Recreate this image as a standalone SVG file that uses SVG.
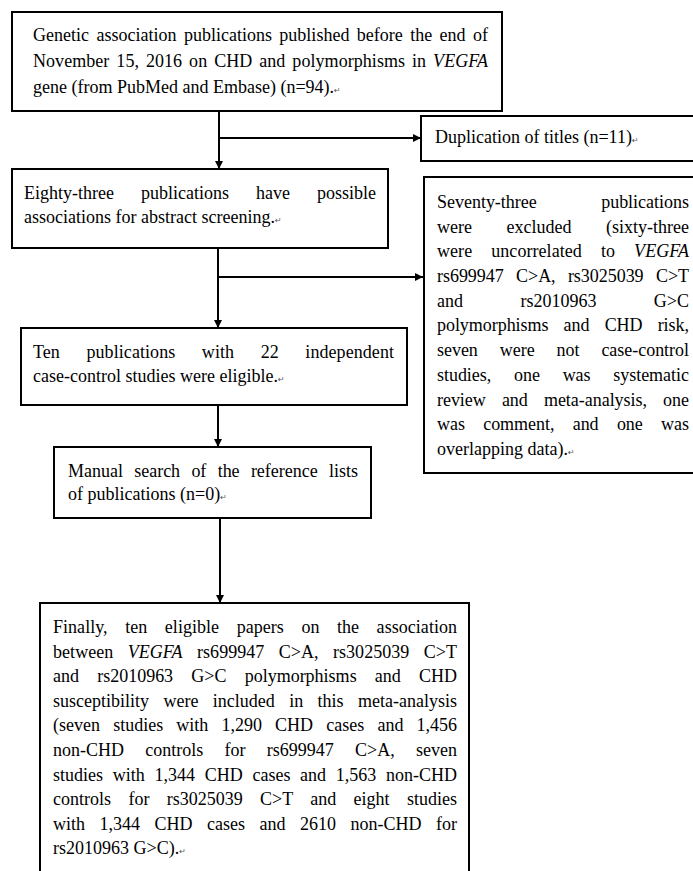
<svg xmlns="http://www.w3.org/2000/svg" width="693" height="871" viewBox="0 0 693 871">
<style>
.box{fill:#fff;stroke:#000;stroke-width:2}
.t{font-family:"Liberation Serif","Times New Roman",serif;font-size:18px;fill:#000}
.i{font-style:italic}
.pm{font-family:"DejaVu Sans",sans-serif;font-size:8px;fill:#555}
.c{fill:none;stroke:#000;stroke-width:2}
</style>
<defs>
<marker id="ah" viewBox="0 0 10 10" refX="10" refY="5" markerWidth="9" markerHeight="8" markerUnits="userSpaceOnUse" orient="auto">
<path d="M0,0 L10,5 L0,10 z" fill="#000"/>
</marker>
</defs>
<rect width="693" height="871" fill="#fff"/>
<g id="connectors">
<path class="c" d="M219,111 V169" marker-end="url(#ah)"/>
<path class="c" d="M219,138 H421" marker-end="url(#ah)"/>
<path class="c" d="M218,248 V328" marker-end="url(#ah)"/>
<path class="c" d="M218,277 H423" marker-end="url(#ah)"/>
<path class="c" d="M218,405 V447" marker-end="url(#ah)"/>
<path class="c" d="M220,518 V603" marker-end="url(#ah)"/>
</g>
<g id="n1">
<rect class="box" x="12" y="12" width="490" height="99"/>
<text class="t" x="33" y="41" textLength="455" lengthAdjust="spacing" word-spacing="2.9">Genetic association publications published before the end of</text>
<text class="t" x="33" y="67" textLength="455" lengthAdjust="spacing" word-spacing="2.4">November 15, 2016 on CHD and polymorphisms in <tspan class="i">VEGFA</tspan></text>
<text class="t" x="33" y="93">gene (from PubMed and Embase) (n=94).<tspan class="pm">↵</tspan></text>
</g>
<g id="n2">
<rect class="box" x="421" y="116" width="290" height="45"/>
<text class="t" x="435" y="143">Duplication of titles (n=11)<tspan class="pm">↵</tspan></text>
</g>
<g id="n3">
<rect class="box" x="12" y="169" width="376" height="79"/>
<text class="t" x="24" y="199" textLength="352" lengthAdjust="spacing" word-spacing="22.5">Eighty-three publications have possible</text>
<text class="t" x="24" y="223">associations for abstract screening.<tspan class="pm">↵</tspan></text>
</g>
<g id="n4">
<rect class="box" x="424" y="177" width="290" height="296"/>
<text class="t" x="437" y="208" textLength="252" lengthAdjust="spacing" word-spacing="60">Seventy-three publications</text>
<text class="t" x="437" y="233" textLength="252" lengthAdjust="spacing" word-spacing="30">were excluded (sixty-three</text>
<text class="t" x="437" y="257" textLength="252" lengthAdjust="spacing" word-spacing="14.5">were uncorrelated to <tspan class="i">VEGFA</tspan></text>
<text class="t" x="437" y="282" textLength="252" lengthAdjust="spacing" word-spacing="7.9">rs699947 C&gt;A, rs3025039 C&gt;T</text>
<text class="t" x="437" y="307" textLength="252" lengthAdjust="spacing" word-spacing="53">and rs2010963 G&gt;C</text>
<text class="t" x="437" y="331" textLength="252" lengthAdjust="spacing" word-spacing="10.7">polymorphisms and CHD risk,</text>
<text class="t" x="437" y="356" textLength="252" lengthAdjust="spacing" word-spacing="17.5">seven were not case-control</text>
<text class="t" x="437" y="381" textLength="252" lengthAdjust="spacing" word-spacing="18.3">studies, one was systematic</text>
<text class="t" x="437" y="406" textLength="252" lengthAdjust="spacing" word-spacing="11.7">review and meta-analysis, one</text>
<text class="t" x="437" y="430" textLength="252" lengthAdjust="spacing" word-spacing="13.9">was comment, and one was</text>
<text class="t" x="437" y="455">overlapping data).<tspan class="pm">↵</tspan></text>
</g>
<g id="n5">
<rect class="box" x="21" y="328" width="386" height="77"/>
<text class="t" x="33" y="358" textLength="361" lengthAdjust="spacing" word-spacing="22">Ten publications with 22 independent</text>
<text class="t" x="33" y="382">case-control studies were eligible.<tspan class="pm">↵</tspan></text>
</g>
<g id="n6">
<rect class="box" x="54" y="447" width="317" height="71"/>
<text class="t" x="68" y="477" textLength="290" lengthAdjust="spacing" word-spacing="6.8">Manual search of the reference lists</text>
<text class="t" x="68" y="500">of publications (n=0)<tspan class="pm">↵</tspan></text>
</g>
<g id="n7">
<rect class="box" x="40" y="603" width="429" height="290"/>
<text class="t" x="53" y="633" textLength="404" lengthAdjust="spacing" word-spacing="13">Finally, ten eligible papers on the association</text>
<text class="t" x="53" y="658" textLength="404" lengthAdjust="spacing" word-spacing="9.8">between <tspan class="i">VEGFA</tspan> rs699947 C&gt;A, rs3025039 C&gt;T</text>
<text class="t" x="53" y="682" textLength="404" lengthAdjust="spacing" word-spacing="13.7">and rs2010963 G&gt;C polymorphisms and CHD</text>
<text class="t" x="53" y="707" textLength="404" lengthAdjust="spacing" word-spacing="9.9">susceptibility were included in this meta-analysis</text>
<text class="t" x="53" y="731" textLength="404" lengthAdjust="spacing" word-spacing="8.6">(seven studies with 1,290 CHD cases and 1,456</text>
<text class="t" x="53" y="756" textLength="404" lengthAdjust="spacing" word-spacing="16.8">non-CHD controls for rs699947 C&gt;A, seven</text>
<text class="t" x="53" y="781" textLength="404" lengthAdjust="spacing" word-spacing="5.2">studies with 1,344 CHD cases and 1,563 non-CHD</text>
<text class="t" x="53" y="805" textLength="404" lengthAdjust="spacing" word-spacing="12.8">controls for rs3025039 C&gt;T and eight studies</text>
<text class="t" x="53" y="830" textLength="404" lengthAdjust="spacing" word-spacing="10">with 1,344 CHD cases and 2610 non-CHD for</text>
<text class="t" x="53" y="854">rs2010963 G&gt;C).<tspan class="pm">↵</tspan></text>
</g>
</svg>
